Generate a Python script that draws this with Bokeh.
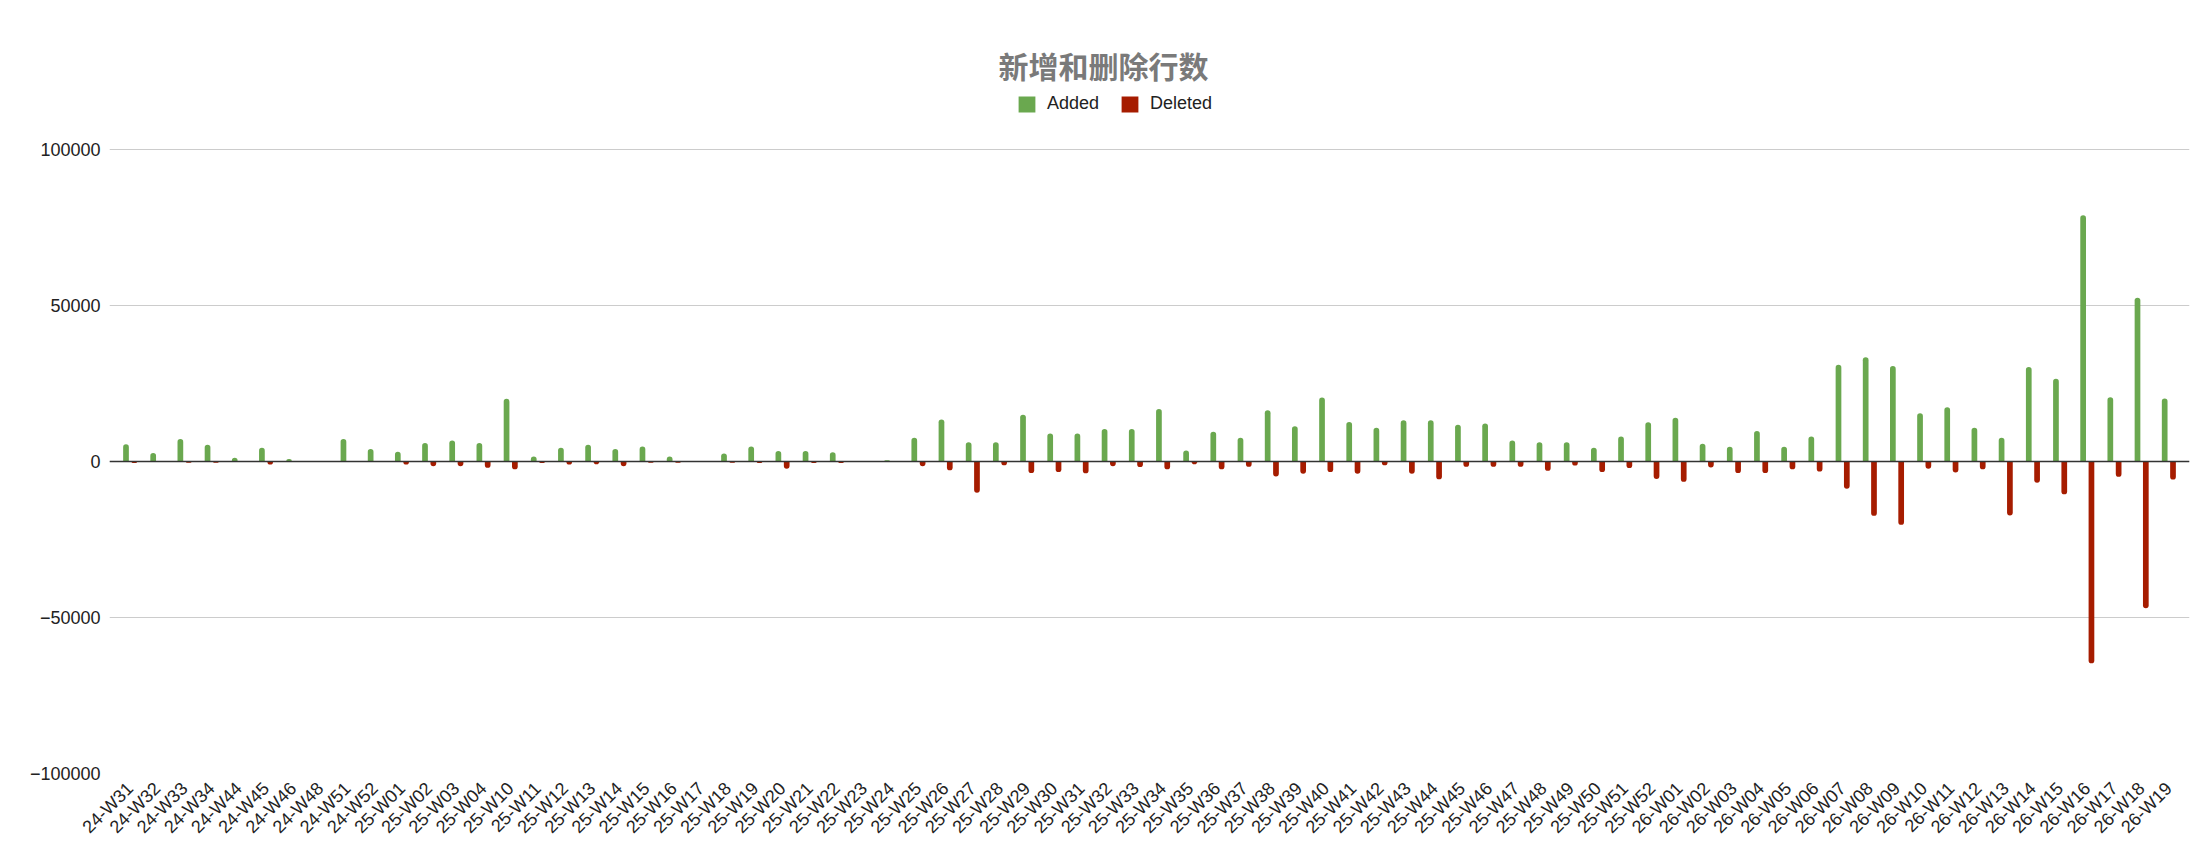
import math
from bokeh.plotting import figure
from bokeh.models import (ColumnDataSource, FactorRange, Range1d, FixedTicker,
                          BasicTickFormatter, Span, Legend, LegendItem, Label)
from bokeh.transform import dodge
from bokeh.embed import file_html
from bokeh.resources import INLINE

weeks = ["24-W31", "24-W32", "24-W33", "24-W34", "24-W44", "24-W45", "24-W46", "24-W48",
         "24-W51", "24-W52", "25-W01", "25-W02", "25-W03", "25-W04", "25-W10", "25-W11",
         "25-W12", "25-W13", "25-W14", "25-W15", "25-W16", "25-W17", "25-W18", "25-W19",
         "25-W20", "25-W21", "25-W22", "25-W23", "25-W24", "25-W25", "25-W26", "25-W27",
         "25-W28", "25-W29", "25-W30", "25-W31", "25-W32", "25-W33", "25-W34", "25-W35",
         "25-W36", "25-W37", "25-W38", "25-W39", "25-W40", "25-W41", "25-W42", "25-W43",
         "25-W44", "25-W45", "25-W46", "25-W47", "25-W48", "25-W49", "25-W50", "25-W51",
         "25-W52", "26-W01", "26-W02", "26-W03", "26-W04", "26-W05", "26-W06", "26-W07",
         "26-W08", "26-W09", "26-W10", "26-W11", "26-W12", "26-W13", "26-W14", "26-W15",
         "26-W16", "26-W17", "26-W18", "26-W19"]

added = [5500, 2700, 7200, 5400, 1200, 4400, 800, 200,
         7200, 4000, 3100, 5900, 6700, 5900, 20100, 1600,
         4400, 5400, 4000, 4800, 1600, 200, 2600, 4800,
         3400, 3400, 3000, 200, 400, 7600, 13500, 6200,
         6200, 15000, 9000, 9000, 10400, 10400, 16800, 3500,
         9500, 7600, 16400, 11300, 20500, 12700, 10800, 13200,
         13200, 11800, 12200, 6700, 6200, 6200, 4400, 8000,
         12600, 14000, 5700, 4700, 9800, 4700, 8000, 31000,
         33400, 30600, 15500, 17400, 10800, 7600, 30300, 26500,
         78900, 20600, 52500, 20200]

deleted = [-500, 0, -400, -400, 0, -1000, 0, 0,
           0, 0, -1000, -1500, -1500, -2000, -2500, -500,
           -1000, -900, -1500, -400, -400, 0, -400, -500,
           -2300, -500, -500, 0, 0, -1500, -2800, -10000,
           -1200, -3700, -3400, -3800, -1500, -1800, -2500, -900,
           -2500, -1700, -4800, -3900, -3400, -3900, -1200, -3900,
           -5700, -1700, -1700, -1700, -3000, -1300, -3400, -2100,
           -5600, -6500, -1900, -3700, -3700, -2500, -3200, -8700,
           -17400, -20300, -2300, -3500, -2500, -17300, -6800, -10500,
           -64700, -4900, -47000, -5800]

y_ticks = [-100000, -50000, 0, 50000, 100000]
series_names = ["Added", "Deleted"]
title_text = "新增和删除行数"

GREEN = "#6aa84f"
RED = "#a61c00"
FONT = "Liberation Sans"

# layout (pixels)
W, H = 2208, 866
LEFT, RIGHT, BOTTOM = 109, 19, 93
FRAME_H = H - BOTTOM                     # frame spans from top of canvas to the -100000 line
GRID_TOP = 149                           # pixel row of the 100000 grid line
px_per_unit = (FRAME_H - GRID_TOP) / (y_ticks[-1] - y_ticks[0])
y_end = y_ticks[-1] + GRID_TOP / px_per_unit

source = ColumnDataSource(dict(week=weeks, added=added, deleted=deleted))

p = figure(width=W, height=H, output_backend="svg", toolbar_location=None,
           x_range=FactorRange(factors=weeks, range_padding=0.26, range_padding_units="absolute"),
           y_range=Range1d(y_ticks[0], y_end),
           min_border_left=LEFT, min_border_right=RIGHT, min_border_top=0, min_border_bottom=BOTTOM)
p.outline_line_color = None
p.background_fill_color = "white"
p.border_fill_color = "white"

r_add = p.vbar(x=dodge("week", -0.153, range=p.x_range), top="added", bottom=0, width=0.21,
               source=source, fill_color=GREEN, line_color=None, border_radius=(3, 3, 0, 0))
r_del = p.vbar(x=dodge("week", 0.153, range=p.x_range), top=0, bottom="deleted", width=0.21,
               source=source, fill_color=RED, line_color=None, border_radius=(0, 0, 3, 3))

p.add_layout(Span(location=0, dimension="width", line_color="#333333", line_width=1.5))

p.xgrid.grid_line_color = None
p.ygrid.grid_line_color = "#cccccc"
p.ygrid.grid_line_width = 1

p.yaxis.ticker = FixedTicker(ticks=y_ticks)
p.yaxis.formatter = BasicTickFormatter(use_scientific=False)
for ax in (p.xaxis, p.yaxis):
    ax.axis_line_color = None
    ax.major_tick_line_color = None
    ax.minor_tick_line_color = None
    ax.major_tick_out = 0
    ax.major_tick_in = 0
    ax.major_label_text_font = FONT
    ax.major_label_text_font_size = "18px"
    ax.major_label_text_color = "#222222"
p.yaxis.major_label_standoff = 9
p.xaxis.major_label_orientation = math.pi / 4
p.xaxis.major_label_standoff = 12

legend = Legend(items=[LegendItem(label=series_names[0], renderers=[r_add]),
                       LegendItem(label=series_names[1], renderers=[r_del])],
                orientation="horizontal", location=(907, FRAME_H - 114),
                glyph_width=21, glyph_height=20, label_standoff=10, spacing=20,
                padding=0, margin=0,
                label_text_font=FONT, label_text_font_size="18px", label_text_color="#222222",
                background_fill_alpha=0, border_line_color=None)
p.add_layout(legend, "center")

p.add_layout(Label(x=1103 - LEFT, y=FRAME_H - 64, x_units="screen", y_units="screen",
                   text=title_text, text_align="center", text_baseline="middle",
                   text_font="Noto Sans CJK SC", text_font_size="30px",
                   text_font_style="bold", text_color="#7a7a7a"))

open("out.html", "w").write(file_html(p, INLINE))
